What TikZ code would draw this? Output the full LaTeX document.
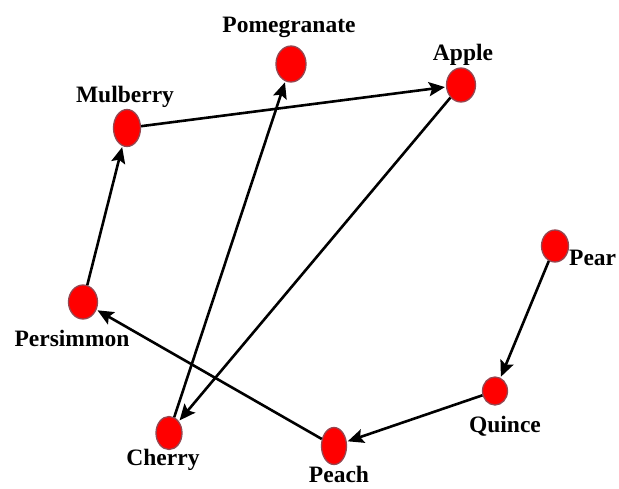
\documentclass[tikz,border=0pt]{standalone}
\usepackage{fontspec}
\setmainfont{Liberation Serif}
\usetikzlibrary{shapes.geometric,arrows.meta}
\begin{document}
\begin{tikzpicture}[x=1pt,y=-1pt,
  fruit/.style={ellipse,fill=red,draw={rgb,255:red,150;green,70;blue,80},line width=1.3pt,
    inner sep=0pt,minimum width=27pt,minimum height=34pt},
  lbl/.style={anchor=base,font=\bfseries\fontsize{23.5}{25}\selectfont,inner sep=0pt},
  edge/.style={line width=2.6pt,-{Stealth[length=16pt,width=14pt,inset=3pt]},shorten >=1pt}]
\useasboundingbox[fill=white] (0,0) rectangle (619,488);
\node[fruit,minimum width=30pt,minimum height=36pt] (pom) at (291,64) {};
\node[fruit,minimum width=29pt] (app) at (461,85) {};
\node[fruit,minimum height=37pt] (mul) at (127,128) {};
\node[fruit,minimum height=32pt] (pear) at (555,246) {};
\node[fruit,minimum width=29pt] (per) at (83,302) {};
\node[fruit,minimum width=25pt,minimum height=28pt] (qui) at (495,391) {};
\node[fruit,minimum width=26pt,minimum height=33pt] (che) at (169,433) {};
\node[fruit,minimum width=25pt,minimum height=37pt] (pea) at (334,446) {};
\node[lbl] (lpom) at (289,32) {Pomegranate};
\node[lbl] (lapp) at (463,60) {Apple};
\node[lbl] (lmul) at (125,102) {Mulberry};
\node[lbl,anchor=base west] (lpear) at (569,265) {Pear};
\node[lbl] (lper) at (72,346) {Persimmon};
\node[lbl] (lqui) at (505,432) {Quince};
\node[lbl] (lche) at (163,465) {Cherry};
\node[lbl] (lpea) at (339,482) {Peach};
\draw[edge] (mul) -- (app);
\draw[edge] (per) -- (mul);
\draw[edge] (che) -- (pom);
\draw[edge] (app) -- (che);
\draw[edge] (pear) -- (qui);
\draw[edge] (qui) -- (pea);
\draw[edge] (pea) -- (per);
\end{tikzpicture}
\end{document}
